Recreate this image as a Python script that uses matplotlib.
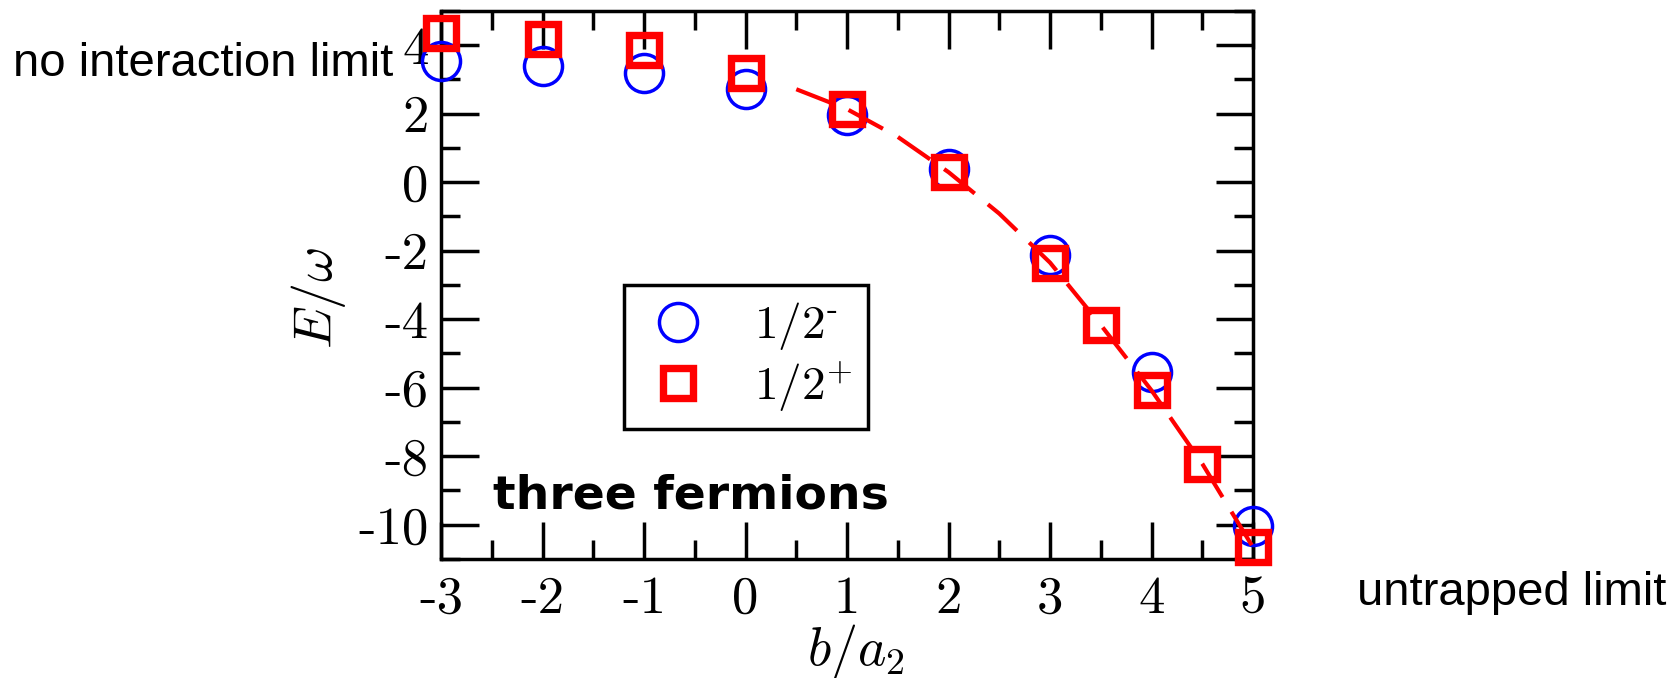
import matplotlib
matplotlib.use('Agg')
import matplotlib.pyplot as plt
from matplotlib.ticker import MultipleLocator

plt.rcParams['mathtext.fontset'] = 'cm'
plt.rcParams['axes.unicode_minus'] = False

# lowest three-fermion energies vs b/a2
b_minus = [-3, -2, -1, 0, 1, 2, 3, 4, 5]
e_minus = [3.53, 3.40, 3.19, 2.72, 1.95, 0.37, -2.13, -5.54, -10.03]

b_plus = [-3, -2, -1, 0, 1, 2, 3, 3.5, 4, 4.5, 5]
e_plus = [4.35, 4.17, 3.85, 3.17, 2.13, 0.29, -2.35, -4.17, -6.08, -8.22, -10.66]

# dashed curve for the 1/2+ branch
b_curve = [0.5, 1, 1.5, 2, 2.5, 3, 3.5, 4, 4.5, 5]
e_curve = [2.71, 2.13, 1.32, 0.29, -0.92, -2.35, -4.17, -6.08, -8.22, -10.66]

xticks = [-3, -2, -1, 0, 1, 2, 3, 4, 5]
xtick_labels = ['-3', '-2', '-1', '0', '1', '2', '3', '4', '5']
yticks = [-10, -8, -6, -4, -2, 0, 2, 4]
ytick_labels = ['-10', '-8', '-6', '-4', '-2', '0', '2', '4']

fig = plt.figure(figsize=(16.79, 6.78), dpi=100)
ax = fig.add_axes([0.2627, 0.1755, 0.4836, 0.8086])

ax.plot(b_minus, e_minus, ls='none', marker='o', ms=27.4, mew=2.5,
        mfc='none', mec='#0000ff', clip_on=False,
        label=r'$1/2^{\text{-}}$', zorder=3)
ax.plot(b_plus, e_plus, ls='none', marker='s', ms=22.1, mew=5.3,
        mfc='none', mec='#ff0000', clip_on=False,
        label=r'$1/2^{\text{+}}$', zorder=4)
ax.plot(b_curve, e_curve, color='#ff0000', lw=3, dashes=(9.4, 4.1),
        clip_on=False, zorder=5)

ax.set_xlim(-3, 5)
ax.set_ylim(-11, 5)
ax.set_xticks(xticks, xtick_labels, fontfamily='cmr10', fontsize=38)
ax.set_yticks(yticks, ytick_labels, fontfamily='cmr10', fontsize=38)
ax.xaxis.set_minor_locator(MultipleLocator(0.5))
ax.yaxis.set_minor_locator(MultipleLocator(1))
ax.tick_params(which='both', direction='in', top=True, right=True, width=2.5)
ax.tick_params(which='major', length=27)
ax.tick_params(which='minor', length=13.7)
ax.tick_params(axis='x', which='major', pad=12)
ax.tick_params(axis='y', which='major', pad=9)
for s in ax.spines.values():
    s.set_linewidth(2.5)

ax.set_xlabel(r'$b/a_2$', fontsize=39)
ax.set_ylabel(r'$E/\omega$', fontsize=39)
ax.xaxis.set_label_coords(0.511, -0.115)
ax.yaxis.set_label_coords(-0.115, 0.476)

leg = ax.legend(loc='upper left', bbox_to_anchor=(0.2257, 0.4998),
                borderaxespad=0, fontsize=34, frameon=True, fancybox=False,
                edgecolor='black', framealpha=1, numpoints=1,
                borderpad=0.32, handlelength=1.65, handletextpad=0.78,
                labelspacing=0.15)
leg.get_frame().set_linewidth(2.5)

fig.text(0.2936, 0.2503, 'three fermions', fontsize=34, fontweight='bold',
         family='DejaVu Sans', ha='left', va='baseline')
fig.text(0.0077, 0.888, 'no interaction limit', fontsize=34,
         family='Liberation Sans', ha='left', va='baseline')
fig.text(0.808, 0.1077, 'untrapped limit', fontsize=34,
         family='Liberation Sans', ha='left', va='baseline')

fig.savefig('out.png', dpi=100)
